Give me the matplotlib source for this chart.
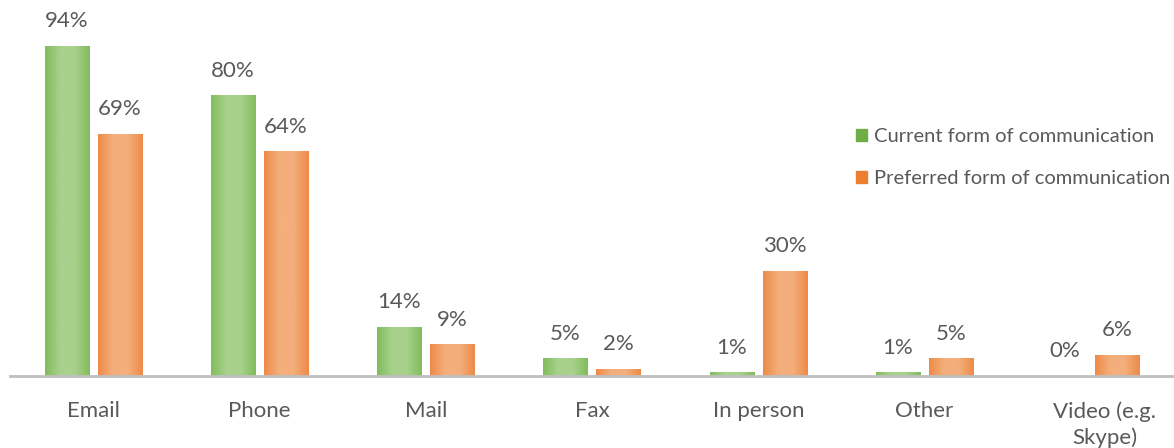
import numpy as np
import matplotlib
matplotlib.use("Agg")
import matplotlib.pyplot as plt
import matplotlib.transforms as mtransforms
from matplotlib.colors import LinearSegmentedColormap
from matplotlib.patches import Patch

categories = ["Email", "Phone", "Mail", "Fax", "In person", "Other", "Video (e.g.\nSkype)"]
current = [94, 80, 14, 5, 1, 1, 0]
preferred = [69, 64, 9, 2, 30, 5, 6]
series_names = ["Current form of communication", "Preferred form of communication"]

plt.rcParams['font.family'] = ['Lato', 'DejaVu Sans']
text_color = "#595959"

fig = plt.figure(figsize=(11.74, 4.48), dpi=100)
ax = fig.add_axes([10/1174, 72/448, 1164/1174, 376/448])

x = np.arange(len(categories))
w = 0.265
gap = 0.027
b1 = ax.bar(x - w/2 - gap, current, w, color="#8CC46A", label=series_names[0])
b2 = ax.bar(x + w/2 + gap, preferred, w, color="#F09A5E", label=series_names[1])

green_cmap = LinearSegmentedColormap.from_list("g", ["#82BC5C", "#A8D18C", "#A8D18C", "#82BC5C"])
orange_cmap = LinearSegmentedColormap.from_list("o", ["#EE8A48", "#F3AE7C", "#F3AE7C", "#EE8A48"])
grad = np.linspace(0, 1, 64).reshape(1, -1)
for bars, cm in ((b1, green_cmap), (b2, orange_cmap)):
    for r in bars:
        h = r.get_height()
        if h <= 0:
            continue
        x0 = r.get_x()
        im = ax.imshow(grad, cmap=cm, aspect='auto', extent=[x0, x0 + r.get_width(), 0, h],
                       zorder=r.get_zorder() + 0.1, interpolation='bicubic')
        im.set_clip_path(r)

ax.set_xlim(-0.5, len(categories) - 0.5)
ax.set_ylim(0, 107.1)

for bars, vals in ((b1, current), (b2, preferred)):
    for r, v in zip(bars, vals):
        ax.annotate(f"{v}%", (r.get_x() + r.get_width()/2, r.get_height()),
                    xytext=(0, 10.5), textcoords="offset points", ha="center", va="bottom",
                    fontsize=16, color=text_color)

for s in ["top", "right", "left"]:
    ax.spines[s].set_visible(False)
ax.spines["bottom"].set_color("#BFBFBF")
ax.spines["bottom"].set_linewidth(2)
ax.set_yticks([])
ax.set_xticks(x)
ax.set_xticklabels(categories, fontsize=16, color=text_color, linespacing=1.35)
ax.tick_params(axis='x', length=0, pad=18)
ax.set_facecolor("none")
last = ax.get_xticklabels()[-1]
last.set_transform(last.get_transform() + mtransforms.ScaledTranslation(14/100, 0, fig.dpi_scale_trans))

handles = [Patch(color="#70AD47"), Patch(color="#ED7D31")]
leg = fig.legend(handles, series_names, loc="upper left", bbox_to_anchor=(838/1174, 1 - 110/448),
                 frameon=False, fontsize=14.5, labelcolor=text_color, handlelength=0.55,
                 handleheight=0.55, handletextpad=0.35, labelspacing=1.25)

fig.savefig("out.png", dpi=100)
